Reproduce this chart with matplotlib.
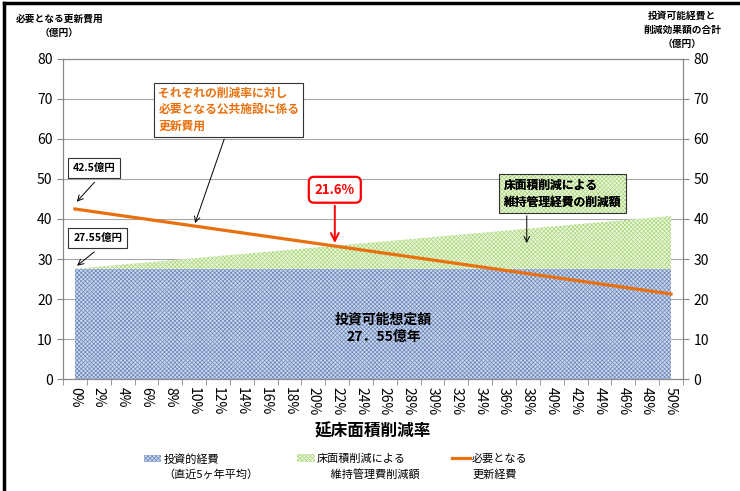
import matplotlib.pyplot as plt
from matplotlib.lines import Line2D
from matplotlib.patches import Patch

plt.rcParams['font.family'] = ['Noto Sans CJK JP', 'DejaVu Sans']
plt.rcParams['hatch.linewidth'] = 0.5

# floor-area reduction rates (%)
rates = [0, 2, 4, 6, 8, 10, 12, 14, 16, 18, 20, 22, 24, 26, 28, 30,
         32, 34, 36, 38, 40, 42, 44, 46, 48, 50]
rate_labels = [f'{r}%' for r in rates]

# investable budget (avg of last 5 years), 100M yen
invest = [27.55] * 26
# maintenance savings from floor-area reduction
savings = [0.00, 0.53, 1.06, 1.58, 2.11, 2.64, 3.17, 3.70, 4.22, 4.75,
           5.28, 5.81, 6.34, 6.86, 7.39, 7.92, 8.45, 8.98, 9.50, 10.03,
           10.56, 11.09, 11.62, 12.14, 12.67, 13.20]
# required renewal cost for each reduction rate
required = [42.50, 41.65, 40.80, 39.95, 39.10, 38.25, 37.40, 36.55, 35.70,
            34.85, 34.00, 33.15, 32.30, 31.45, 30.60, 29.75, 28.90, 28.05,
            27.20, 26.35, 25.50, 24.65, 23.80, 22.95, 22.10, 21.25]

blue_face, blue_hatch = '#cdd8ec', '#6a87bd'
green_face, green_hatch = '#eef7e2', '#a8d878'
orange = '#e8700f'
dense = 'xxxxxxxx'

fig = plt.figure(figsize=(7.4, 4.91), dpi=100)
ax = fig.add_axes([0.0851, 0.228, 0.8378, 0.652])

x = list(range(len(rates)))
top = [a + b for a, b in zip(invest, savings)]
ax.fill_between(x, 0, invest, facecolor=blue_face, edgecolor=blue_hatch,
                hatch=dense, linewidth=0, zorder=2)
ax.fill_between(x, invest, top, facecolor=green_face, edgecolor=green_hatch,
                hatch=dense, linewidth=0, zorder=2)
ax.plot(x, required, color=orange, lw=2.3, zorder=3)

ax.set_xlim(-0.5, len(rates) - 0.5)
ax.set_ylim(0, 80)
ax.set_yticks(range(0, 81, 10))
ax.yaxis.grid(True, color='#a6a6a6', lw=0.8)
ax.set_axisbelow(True)
ax.set_xticks(x)
ax.set_xticklabels(rate_labels, rotation=-90, fontsize=10)
ax.set_xticks([i - 0.5 for i in range(len(rates) + 1)], minor=True)
ax.tick_params(axis='x', which='major', length=0, pad=6)
ax.tick_params(axis='x', which='minor', length=4, color='#888888')
ax.tick_params(axis='y', length=4, color='#888888', labelsize=10)
for s in ax.spines.values():
    s.set_color('#888888')

ax2 = ax.twinx()
ax2.set_ylim(0, 80)
ax2.set_yticks(range(0, 81, 10))
ax2.tick_params(axis='y', length=4, color='#888888', labelsize=10)
for s in ax2.spines.values():
    s.set_color('#888888')

ax.set_xlabel('延床面積削減率', fontsize=12, fontweight='bold', labelpad=5)

# callouts
ax.text(3.5, 67.3, 'それぞれの削減率に対し\n必要となる公共施設に係る\n更新費用',
        color=orange, fontsize=8.5, fontweight='bold', va='center', ha='left',
        linespacing=1.35, zorder=5,
        bbox=dict(boxstyle='square,pad=0.35', fc='white', ec='#333333', lw=0.8))
ax.annotate('', xy=(5.0, 38.3), xytext=(6.3, 60.6), zorder=5,
            arrowprops=dict(arrowstyle='->', color='black', lw=0.7))

ax.text(0.8, 52.75, '42.5億円', fontsize=7.5, fontweight='bold', ha='center',
        va='center', zorder=5,
        bbox=dict(boxstyle='square,pad=0.45', fc='white', ec='#333333', lw=0.8))
ax.annotate('', xy=(0.0, 43.8), xytext=(0.9, 49.7), zorder=5,
            arrowprops=dict(arrowstyle='->', color='black', lw=0.7))

ax.text(0.95, 35.25, '27.55億円', fontsize=7.5, fontweight='bold', ha='center',
        va='center', zorder=5,
        bbox=dict(boxstyle='square,pad=0.45', fc='white', ec='#333333', lw=0.8))
ax.annotate('', xy=(0.0, 27.9), xytext=(0.9, 32.2), zorder=5,
            arrowprops=dict(arrowstyle='->', color='black', lw=0.7))

ax.text(10.9, 47.3, '21.6%', color='#ff0000', fontsize=9.5, fontweight='bold',
        ha='center', va='center', zorder=5,
        bbox=dict(boxstyle='round,pad=0.45,rounding_size=0.4', fc='white',
                  ec='#ff0000', lw=1.6))
ax.annotate('', xy=(10.9, 33.3), xytext=(10.9, 44.0), zorder=5,
            arrowprops=dict(arrowstyle='->', color='#ff0000', lw=1.4,
                            mutation_scale=14))

# green callout: hatched fill first, then a dark outline on top
green_note = '床面積削減による\n維持管理経費の削減額'
ax.text(18.0, 46.3, green_note, fontsize=8.5, fontweight='bold', ha='left',
        va='center', linespacing=1.4, zorder=5,
        bbox=dict(boxstyle='square,pad=0.4', fc=green_face, ec=green_hatch,
                  lw=0, hatch=dense))
ax.text(18.0, 46.3, green_note, fontsize=8.5, fontweight='bold', ha='left',
        va='center', linespacing=1.4, zorder=6,
        bbox=dict(boxstyle='square,pad=0.4', fc='none', ec='#333333', lw=0.8))
ax.annotate('', xy=(18.95, 33.3), xytext=(18.95, 41.5), zorder=5,
            arrowprops=dict(arrowstyle='->', color='black', lw=0.7))

ax.text(12.95, 12.6, '投資可能想定額\n27．55億年', fontsize=10, fontweight='bold',
        ha='center', va='center', linespacing=1.3, zorder=5)

# axis captions
fig.text(0.08, 0.947, '必要となる更新費用\n（億円）', fontsize=7, fontweight='bold',
         ha='center', va='center', linespacing=1.6)
fig.text(0.922, 0.939, '投資可能経費と\n削減効果額の合計\n（億円）', fontsize=7,
         fontweight='bold', ha='center', va='center', linespacing=1.5)

# outer frame
fig.add_artist(Line2D([0.005, 1.0], [0.993, 0.993], color='black', lw=2.5))
fig.add_artist(Line2D([0.006, 0.006], [0.0, 0.993], color='black', lw=2.5))

# legend: handle sits beside the first line, second line goes underneath
handles = [
    Patch(facecolor=blue_face, edgecolor=blue_hatch, hatch=dense, lw=0),
    Patch(facecolor=green_face, edgecolor=green_hatch, hatch=dense, lw=0),
    Line2D([0], [0], color=orange, lw=2.3),
]
first_lines = ['投資的経費', '床面積削減による', '必要となる']
second_lines = ['（直近5ヶ年平均）', '　 維持管理費削減額', '更新経費']
anchors = [0.194, 0.401, 0.611]
legs = []
for h, lab, ax_x in zip(handles, first_lines, anchors):
    legs.append(fig.legend([h], [lab], loc='center left',
                           bbox_to_anchor=(ax_x, 0.065), frameon=False,
                           fontsize=8, handlelength=1.6, handleheight=0.7,
                           handletextpad=0.2, borderaxespad=0, borderpad=0))

fig.canvas.draw()
for leg, lab in zip(legs, second_lines):
    bb = leg.get_texts()[0].get_window_extent()
    tx = fig.transFigure.inverted().transform((bb.x0, bb.y0))[0]
    fig.text(tx, 0.033, lab, fontsize=8, ha='left', va='center')

fig.savefig('out.png', dpi=100)
